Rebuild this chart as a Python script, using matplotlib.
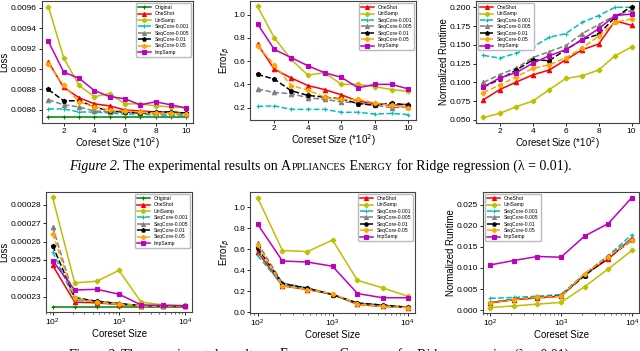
import matplotlib
matplotlib.use('Agg')
import matplotlib.pyplot as plt
from matplotlib.ticker import MultipleLocator

plt.rcParams['font.family'] = ['Liberation Sans', 'DejaVu Sans']
plt.rcParams['mathtext.fontset'] = 'dejavusans'

# coreset sizes
size_top = [1, 2, 3, 4, 5, 6, 7, 8, 9, 10]          # *10^2
size_bot = [100, 215, 464, 1000, 2154, 4642, 10000]

# Appliances Energy - loss
ae_loss = {
    'Original':      [0.008527] * 10,
    'OneShot':       [0.00907, 0.00882, 0.00872, 0.00866, 0.00864, 0.00860, 0.00859, 0.00858, 0.00858, 0.00857],
    'UniSamp':       [0.00961, 0.00911, 0.00884, 0.00873, 0.00876, 0.00866, 0.00866, 0.00864, 0.00863, 0.00862],
    'SeqCore-0.001': [0.00861, 0.00861, 0.00858, 0.00858, 0.00857, 0.00856, 0.00856, 0.00855, 0.00855, 0.00855],
    'SeqCore-0.005': [0.00870, 0.00865, 0.00863, 0.00859, 0.00858, 0.00858, 0.00857, 0.00856, 0.00856, 0.00856],
    'SeqCore-0.01':  [0.00880, 0.00869, 0.00869, 0.00863, 0.00859, 0.00858, 0.00857, 0.00858, 0.00858, 0.00857],
    'SeqCore-0.05':  [0.00905, 0.00884, 0.00868, 0.00863, 0.00860, 0.00859, 0.00858, 0.00857, 0.00857, 0.00856],
    'ImpSamp':       [0.00927, 0.00897, 0.00891, 0.00879, 0.00873, 0.00871, 0.00865, 0.00868, 0.00865, 0.00862],
}

# Appliances Energy - error
ae_err = {
    'OneShot':       [0.745, 0.53, 0.455, 0.39, 0.355, 0.31, 0.255, 0.235, 0.22, 0.23],
    'UniSamp':       [1.07, 0.80, 0.615, 0.48, 0.50, 0.40, 0.40, 0.38, 0.355, 0.34],
    'SeqCore-0.001': [0.21, 0.215, 0.185, 0.185, 0.185, 0.16, 0.16, 0.145, 0.15, 0.14],
    'SeqCore-0.005': [0.36, 0.33, 0.32, 0.285, 0.27, 0.25, 0.24, 0.22, 0.20, 0.205],
    'SeqCore-0.01':  [0.485, 0.445, 0.345, 0.305, 0.29, 0.275, 0.235, 0.22, 0.24, 0.22],
    'SeqCore-0.05':  [0.73, 0.57, 0.39, 0.35, 0.29, 0.27, 0.27, 0.24, 0.22, 0.20],
    'ImpSamp':       [0.92, 0.70, 0.63, 0.56, 0.50, 0.46, 0.37, 0.40, 0.40, 0.36],
}

# Appliances Energy - runtime
ae_time = {
    'OneShot':       [0.0768, 0.0905, 0.1005, 0.110, 0.1165, 0.130, 0.1435, 0.151, 0.182, 0.176],
    'UniSamp':       [0.0533, 0.0587, 0.0678, 0.075, 0.0903, 0.1052, 0.1088, 0.1165, 0.1355, 0.1472],
    'SeqCore-0.001': [0.136, 0.1323, 0.139, 0.147, 0.160, 0.165, 0.180, 0.189, 0.200, 0.200],
    'SeqCore-0.005': [0.100, 0.1105, 0.119, 0.133, 0.141, 0.149, 0.165, 0.177, 0.189, 0.196],
    'SeqCore-0.01':  [0.094, 0.104, 0.1165, 0.130, 0.129, 0.1435, 0.157, 0.164, 0.187, 0.201],
    'SeqCore-0.05':  [0.0865, 0.0965, 0.1075, 0.1185, 0.1235, 0.1325, 0.146, 0.1615, 0.180, 0.1845],
    'ImpSamp':       [0.094, 0.106, 0.113, 0.1255, 0.1355, 0.1435, 0.157, 0.1715, 0.189, 0.191],
}

# second dataset - loss
fb_loss = {
    'Original':      [0.0002246] * 7,
    'OneShot':       [0.0002470, 0.0002270, 0.0002266, 0.0002257, 0.0002250, 0.0002248, 0.0002247],
    'UniSamp':       [0.0002840, 0.0002375, 0.0002384, 0.0002443, 0.0002270, 0.0002255, 0.0002252],
    'SeqCore-0.001': [0.0002545, 0.0002282, 0.0002270, 0.0002260, 0.0002250, 0.0002249, 0.0002248],
    'SeqCore-0.005': [0.0002680, 0.0002290, 0.0002276, 0.0002264, 0.0002250, 0.0002250, 0.0002248],
    'SeqCore-0.01':  [0.0002578, 0.0002295, 0.0002274, 0.0002262, 0.0002251, 0.0002249, 0.0002248],
    'SeqCore-0.05':  [0.0002643, 0.0002290, 0.0002270, 0.0002259, 0.0002250, 0.0002248, 0.0002248],
    'ImpSamp':       [0.0002496, 0.0002336, 0.0002340, 0.0002313, 0.0002255, 0.0002252, 0.0002250],
}

# second dataset - error
fb_err = {
    'OneShot':       [0.58, 0.253, 0.218, 0.173, 0.076, 0.057, 0.047],
    'UniSamp':       [1.095, 0.59, 0.58, 0.69, 0.305, 0.235, 0.155],
    'SeqCore-0.001': [0.543, 0.26, 0.224, 0.17, 0.08, 0.06, 0.05],
    'SeqCore-0.005': [0.663, 0.28, 0.234, 0.17, 0.09, 0.07, 0.05],
    'SeqCore-0.01':  [0.615, 0.275, 0.23, 0.17, 0.09, 0.07, 0.05],
    'SeqCore-0.05':  [0.647, 0.255, 0.218, 0.18, 0.08, 0.057, 0.047],
    'ImpSamp':       [0.843, 0.49, 0.48, 0.44, 0.18, 0.14, 0.14],
}

# second dataset - runtime
fb_time = {
    'OneShot':       [0.0017, 0.0025, 0.0029, 0.0033, 0.0084, 0.0121, 0.0171],
    'UniSamp':       [0.00063, 0.0010, 0.00143, 0.00183, 0.00556, 0.00976, 0.01413],
    'SeqCore-0.001': [0.0028, 0.0030, 0.0033, 0.0037, 0.0086, 0.0129, 0.0179],
    'SeqCore-0.005': [0.0018, 0.0026, 0.0030, 0.0036, 0.0084, 0.0129, 0.0169],
    'SeqCore-0.01':  [0.0018, 0.0025, 0.0030, 0.0034, 0.0082, 0.0125, 0.0165],
    'SeqCore-0.05':  [0.0018, 0.0025, 0.0030, 0.0033, 0.0086, 0.0127, 0.0165],
    'ImpSamp':       [0.0107, 0.01175, 0.0127, 0.01254, 0.01754, 0.0205, 0.02667],
}

# color, linestyle, marker
styles = {
    'Original':      ('#008000', '-', '+'),
    'OneShot':       ('#ff0000', '-', '^'),
    'UniSamp':       ('#bfbf00', '-', 'P'),
    'SeqCore-0.001': ('#00bfbf', '--', '+'),
    'SeqCore-0.005': ('#808080', '--', '^'),
    'SeqCore-0.01':  ('#000000', '--', 'p'),
    'SeqCore-0.05':  ('#ffa500', '--', 'P'),
    'ImpSamp':       ('#bf00bf', '-', 's'),
}

W, H = 640, 351
fig = plt.figure(figsize=(W / 100, H / 100), dpi=100)


def add_axes(l, t, r, b):
    return fig.add_axes([l / W, 1 - b / H, (r - l) / W, (b - t) / H])


def draw(ax, x, data, ylabel, legend_loc, logx=False):
    for name, vals in data.items():
        c, ls, mk = styles[name]
        ax.plot(x, vals, color=c, linestyle=ls, marker=mk, markersize=3.2,
                linewidth=1.1, markeredgewidth=0.8, label=name)
    if logx:
        ax.set_xscale('log')
        ax.set_xlabel('Coreset Size', fontsize=6.9, labelpad=0.5)
    else:
        ax.set_xticks([2, 4, 6, 8, 10])
        ax.set_xlabel('Coreset Size (*10$^2$)', fontsize=6.9, labelpad=0.5)
    ax.set_ylabel(ylabel, fontsize=6.9, labelpad=0.8)
    ax.tick_params(labelsize=6.0, length=2.5, width=0.6, pad=1)
    ax.tick_params(which='minor', length=1.5, width=0.4)
    for s in ax.spines.values():
        s.set_linewidth(0.8)
        s.set_color('#444444')
    ax.legend(loc=legend_loc, fontsize=3.6, handlelength=2.6, markerscale=0.9,
              borderpad=0.4, labelspacing=0.28, handletextpad=0.8, framealpha=1,
              edgecolor='#bbbbbb', borderaxespad=0.4)


ax1 = add_axes(41.5, 1, 193, 123)
draw(ax1, size_top, ae_loss, 'Loss', 'upper right')
ax2 = add_axes(250, 1, 416, 120)
draw(ax2, size_top, ae_err, r'Error$_\beta$', 'upper right')
ax3 = add_axes(476, 1, 639, 123)
draw(ax3, size_top, ae_time, 'Normalized Runtime', 'upper left')

ax4 = add_axes(46, 192, 192, 312)
draw(ax4, size_bot, fb_loss, 'Loss', 'upper right', logx=True)
ax4.yaxis.set_major_locator(MultipleLocator(0.00001))
ax5 = add_axes(250, 192, 415, 313)
draw(ax5, size_bot, fb_err, r'Error$_\beta$', 'upper right', logx=True)
ax6 = add_axes(483, 192, 639, 313)
draw(ax6, size_bot, fb_time, 'Normalized Runtime', 'upper left', logx=True)


def caption(y_px, pieces):
    fig.canvas.draw()
    r = fig.canvas.get_renderer()
    texts = []
    for s, size, style in pieces:
        t = fig.text(0, 1 - y_px / H, s, fontsize=size, style=style,
                     family='Liberation Serif', va='baseline', ha='left')
        texts.append(t)
    widths = [t.get_window_extent(r).width for t in texts]
    x = (W - sum(widths)) / 2
    for t, w in zip(texts, widths):
        t.set_x(x / W)
        x += w


big, small = 10, 7.4
caption(170, [('Figure 2.', big, 'italic'), (' The experimental results on ', big, 'normal'),
              ('A', big, 'normal'), ('PPLIANCES', small, 'normal'), (' E', big, 'normal'),
              ('NERGY', small, 'normal'),
              (' for Ridge regression (\u03bb = 0.01).', big, 'normal')])
caption(358.5, [('Figure 3.', big, 'italic'), (' The experimental results on ', big, 'normal'),
                ('F', big, 'normal'), ('ACEBOOK', small, 'normal'), (' C', big, 'normal'),
                ('OMMENT', small, 'normal'),
                (' for Ridge regression (\u03bb = 0.01).', big, 'normal')])

fig.savefig('out.png', dpi=100)
